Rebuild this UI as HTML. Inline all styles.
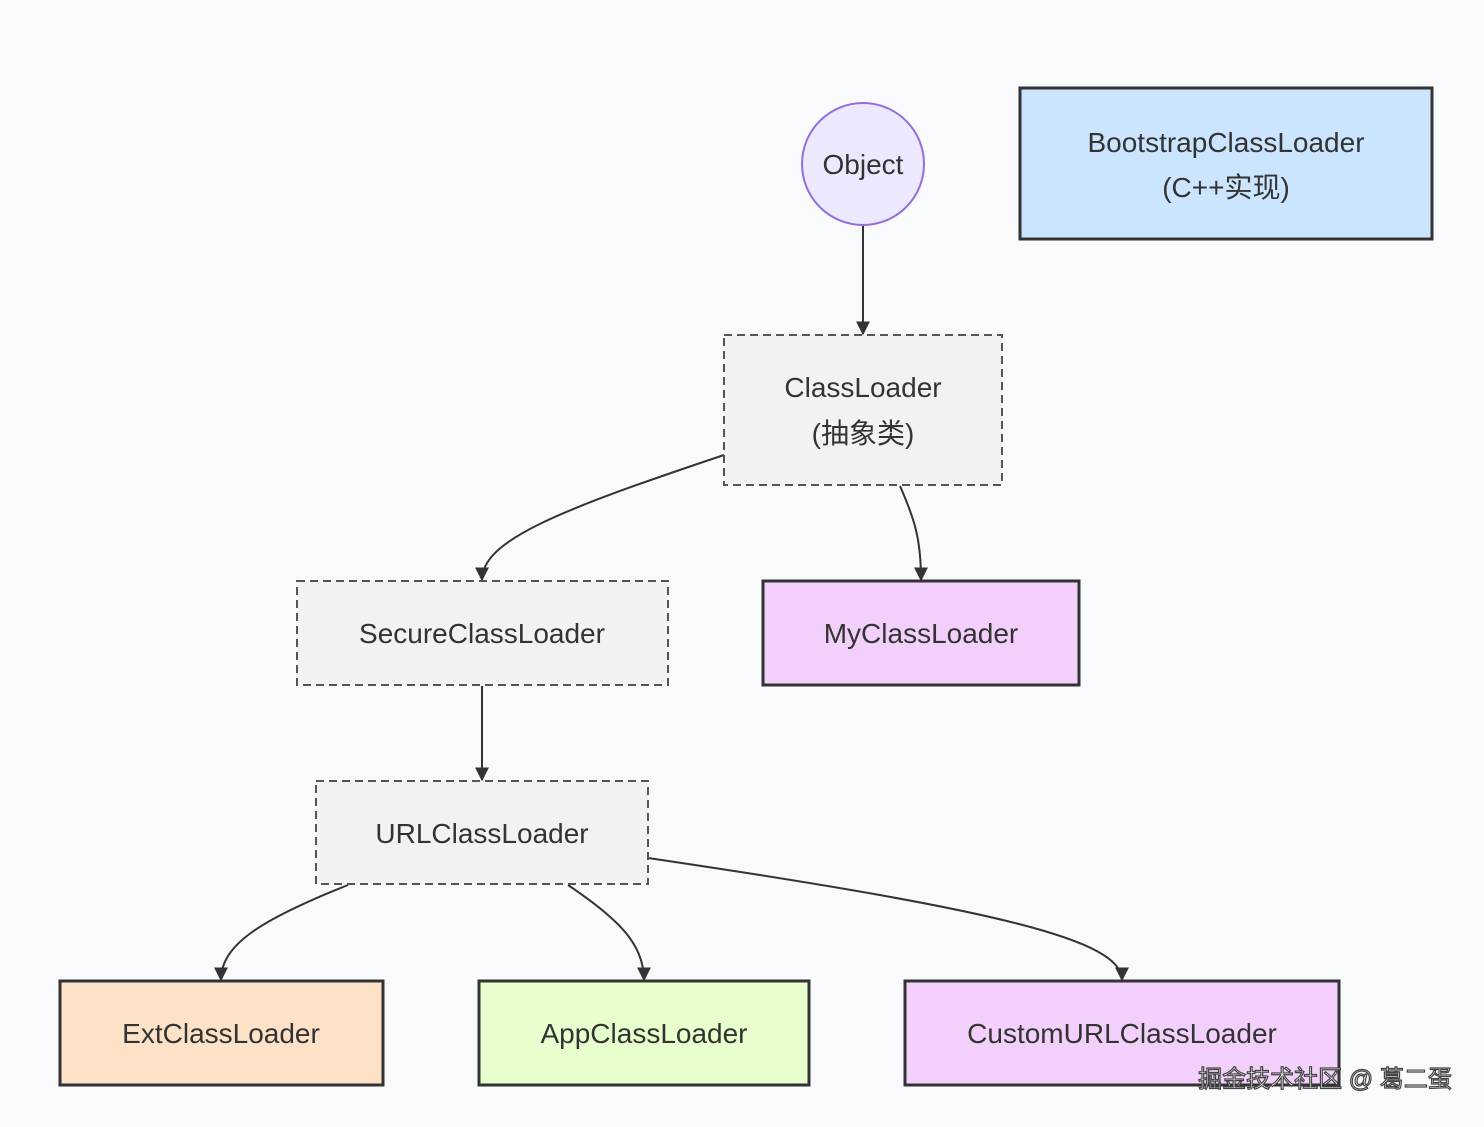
<!DOCTYPE html>
<html><head><meta charset="utf-8"><style>
html,body{margin:0;padding:0;background:#f9fafc;}
svg text{font-family:"Liberation Sans","Noto Sans CJK SC",sans-serif;font-size:28px;fill:#333;text-anchor:middle;}
</style></head><body>
<svg width="1484" height="1122" viewBox="0 0 1484 1122" xmlns="http://www.w3.org/2000/svg">
<defs><marker id="a" viewBox="0 0 10 10" refX="9" refY="5" markerWidth="7" markerHeight="7" orient="auto"><path d="M0,0L10,5L0,10z" fill="#333"/></marker></defs>
<rect width="1484" height="1122" fill="#f9fafc"/>
<g fill="none" stroke="#333" stroke-width="2" marker-end="url(#a)">
<path d="M863,226 L863,334"/>
<path d="M724,455 C560,510 482,540 482,580"/>
<path d="M900,486 C915,520 921,540 921,580"/>
<path d="M482,686 L482,780"/>
<path d="M348,885 C260,920 221,945 221,980"/>
<path d="M568,885 C620,920 644,945 644,980"/>
<path d="M648,858 C1000,910 1122,940 1122,980"/>
</g>
<circle cx="863" cy="164" r="61" fill="#ece8fd" stroke="#9370db" stroke-width="2"/>
<text x="863" y="174">Object</text>
<rect x="1020" y="88" width="412" height="151" fill="#cce5ff" stroke="#333" stroke-width="3"/>
<text x="1226" y="152">BootstrapClassLoader</text>
<text x="1226" y="197">(C++实现)</text>
<g stroke="#555" stroke-width="2" stroke-dasharray="8,5" fill="#f2f2f2">
<rect x="724" y="335" width="278" height="150"/>
<rect x="297" y="581" width="371" height="104"/>
<rect x="316" y="781" width="332" height="103"/>
</g>
<text x="863" y="397">ClassLoader</text>
<text x="863" y="443">(抽象类)</text>
<text x="482" y="643">SecureClassLoader</text>
<text x="482" y="843">URLClassLoader</text>
<g stroke="#333" stroke-width="3">
<rect x="763" y="581" width="316" height="104" fill="#f3d0fc"/>
<rect x="60" y="981" width="323" height="104" fill="#fde2c8"/>
<rect x="479" y="981" width="330" height="104" fill="#e6ffcc"/>
<rect x="905" y="981" width="434" height="104" fill="#f3d0fc"/>
</g>
<text x="921" y="643">MyClassLoader</text>
<text x="221" y="1043">ExtClassLoader</text>
<text x="644" y="1043">AppClassLoader</text>
<text x="1122" y="1043">CustomURLClassLoader</text>
<text x="1325" y="1087" style="font-size:24px;fill:#fff;stroke:#444;stroke-width:1.2px">掘金技术社区 @ 葛二蛋</text>
</svg>
</body></html>
